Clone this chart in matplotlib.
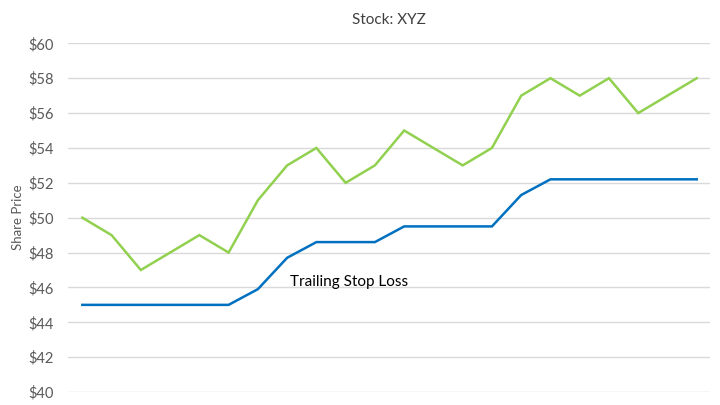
import matplotlib.pyplot as plt

# share price and trailing stop loss (90% of running max)
days = list(range(22))
price = [50, 49, 47, 48, 49, 48, 51, 53, 54, 52, 53, 55, 54, 53, 54, 57, 58, 57, 58, 56, 57, 58]
stop = [45, 45, 45, 45, 45, 45, 45.9, 47.7, 48.6, 48.6, 48.6, 49.5, 49.5, 49.5, 49.5, 51.3,
        52.2, 52.2, 52.2, 52.2, 52.2, 52.2]
yticks = [40, 42, 44, 46, 48, 50, 52, 54, 56, 58, 60]

plt.rcParams['font.family'] = ['Lato', 'DejaVu Sans']

fig = plt.figure(figsize=(7.2, 4.05), dpi=100)
ax = fig.add_axes([0.094, 0.032, 0.892, 0.861])

ax.plot(days, price, color='#92D050', lw=1.8, solid_joinstyle='miter')
ax.plot(days, stop, color='#0070C0', lw=1.8, solid_joinstyle='miter')

ax.set_xlim(-0.5, 21.45)
ax.set_ylim(40, 60)
ax.set_yticks(yticks)
ax.set_yticklabels(['$' + str(v) for v in yticks], color='#595959', fontsize=10.5)
ax.set_xticks([])
ax.tick_params(axis='y', length=0, pad=10)
ax.yaxis.grid(True, color='#D9D9D9', lw=1)
ax.set_axisbelow(True)
for s in ax.spines.values():
    s.set_visible(False)

ax.set_ylabel('Share Price', color='#595959', fontsize=9.5, labelpad=3)
ax.set_title('Stock: XYZ', color='#404040', fontsize=11, pad=14)
ax.text(7.1, 46.3, 'Trailing Stop Loss', fontsize=11, color='black', va='center')

fig.savefig('out.png', dpi=100)
